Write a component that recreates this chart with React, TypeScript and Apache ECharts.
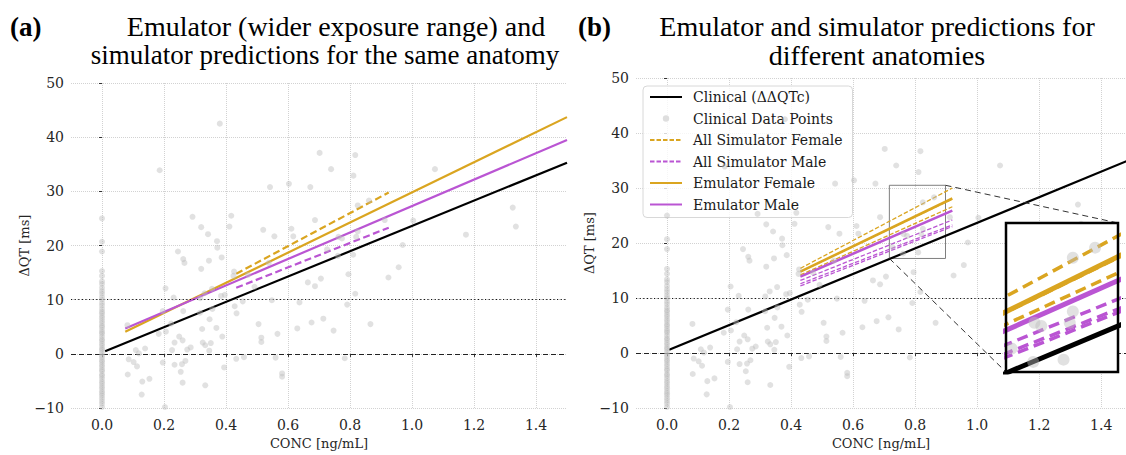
import React, { useEffect, useRef } from 'react';
import * as echarts from 'echarts';

// Axis ranges and tick values
const X_MIN = -0.1;
const X_MAX_A = 1.5;
const X_MAX_B = 1.48;
const X_TICKS = [0, 0.2, 0.4, 0.6, 0.8, 1.0, 1.2, 1.4];
const Y_MIN = -10;
const Y_MAX = 50;
const Y_STEP = 10;

// Clinical observations at zero concentration (placebo column)
const PLACEBO_DQT = [
  25.0, 20.7, 18.9, 15.3, 14.4, 13.4, 12.9, 12.2, 11.6, 11.1, 10.5, 10.0, 9.4, 8.9, 8.3,
  7.8, 7.5, 7.0, 6.6, 6.1, 5.7, 5.2, 4.9, 4.4, 4.0, 3.7, 3.2, 2.7, 2.4, 1.9, 1.5, 1.0,
  0.7, 0.2, -0.3, -0.7, -1.2, -1.5, -2.0, -2.4, -2.9, -3.2, -3.8, -4.1, -4.6, -5.1,
  -5.5, -6.0, -6.4, -6.9, -7.3, -7.7, -8.2, -8.7, -9.2, -9.8,
];

// Clinical observations with drug exposure: [CONC, ΔQT]
const DOSED_POINTS: [number, number][] = [
  [0.380, 42.5], [0.186, 33.9], [0.702, 37.1], [0.817, 36.7], [0.739, 34.1], [0.811, 32.9],
  [1.074, 34.1], [0.542, 30.8], [0.603, 31.4], [0.672, 30.8], [0.825, 27.4], [0.861, 28.3],
  [1.325, 27.0], [1.335, 23.5], [1.174, 22.0], [0.292, 25.3], [0.417, 25.5], [0.411, 23.5],
  [0.320, 23.4], [0.342, 22.1], [0.371, 20.8], [0.372, 19.6], [0.386, 17.8], [0.245, 18.9],
  [0.262, 17.5], [0.266, 16.8], [0.345, 17.2], [0.320, 15.7], [0.520, 22.9], [0.556, 21.7],
  [0.611, 23.1], [0.617, 21.7], [0.687, 24.7], [0.912, 24.7], [1.004, 24.6], [0.970, 20.1],
  [0.957, 16.0], [0.924, 14.1], [0.795, 14.7], [0.817, 11.1], [0.791, 9.1], [0.866, 5.5],
  [0.810, 18.3], [0.763, 21.6], [0.774, 21.3], [0.820, 21.6], [0.825, 22.6], [0.761, 18.1],
  [0.726, 19.3], [0.706, 13.9], [0.687, 12.5], [0.664, 13.2], [0.538, 16.8], [0.492, 12.4],
  [0.471, 14.6], [0.426, 15.2], [0.424, 14.4], [0.548, 9.9], [0.637, 9.5], [0.454, 9.7],
  [0.428, 8.8], [0.434, 7.5], [0.396, 10.9], [0.384, 10.7], [0.355, 12.0], [0.356, 8.3],
  [0.347, 6.4], [0.323, 4.6], [0.369, 4.8], [0.388, 3.2], [0.325, 2.1], [0.351, 2.0],
  [0.346, 0.6], [0.333, 1.6], [0.286, 1.2], [0.275, 0.8], [0.260, 2.5], [0.249, 3.2],
  [0.234, 2.1], [0.226, 0.7], [0.223, 5.6], [0.206, 4.1], [0.183, 3.7], [0.196, 7.9],
  [0.262, 7.9], [0.231, 10.4], [0.205, 12.1], [0.316, 7.6], [0.317, 10.3], [0.331, 11.2],
  [0.082, 5.3], [0.109, 0.7], [0.139, 1.0], [0.119, 0.1], [0.086, -1.0], [0.102, -1.5],
  [0.113, -2.3], [0.083, -3.8], [0.130, -5.1], [0.153, -4.6], [0.128, -7.5], [0.203, -9.8],
  [0.196, -1.6], [0.234, -2.0], [0.258, -1.9], [0.269, -1.3], [0.254, -3.3], [0.260, -5.3],
  [0.333, -5.8], [0.394, -2.5], [0.433, -0.9], [0.458, -0.6], [0.560, -0.7], [0.581, -3.6],
  [0.581, -4.2], [0.566, 3.7], [0.514, 3.0], [0.514, 2.2], [0.505, 5.5], [0.630, 4.7],
  [0.676, 5.8], [0.714, 6.5], [0.747, 4.3], [0.783, -0.8],
];

// Panel (a): same anatomy, emulator over a wider exposure range
const A_CLINICAL: [number, number][] = [[0.01, 0.5], [1.5, 35.3]];
const A_SIM_FEMALE: [number, number][] = [[0.433, 14.8], [0.925, 29.8]];
const A_SIM_MALE: [number, number][] = [[0.433, 12.2], [0.925, 23.3]];
const A_EMU_FEMALE: [number, number][] = [[0.075, 4.1], [1.5, 43.7]];
const A_EMU_MALE: [number, number][] = [[0.075, 4.7], [1.5, 39.5]];

// Panel (b): different anatomies
const B_CLINICAL: [number, number][] = [[0.007, 0.6], [1.5, 35.3]];
const B_SIM_FEMALE: [number, number][][] = [
  [[0.43, 15.4], [0.92, 30.0]],
  [[0.43, 14.8], [0.92, 28.0]],
  [[0.43, 14.2], [0.92, 26.6]],
];
const B_SIM_MALE: [number, number][][] = [
  [[0.43, 13.2], [0.92, 24.2]],
  [[0.43, 12.6], [0.92, 23.3]],
  [[0.43, 12.2], [0.92, 23.0]],
];
const B_EMU_FEMALE: [number, number][] = [[0.43, 14.8], [0.92, 28.1]];
const B_EMU_MALE: [number, number][] = [[0.43, 13.9], [0.92, 25.9]];

// Magnified region of panel (b)
const ZOOM_X = [0.717, 0.898];
const ZOOM_Y = [17.2, 30.5];
const ZOOM_GRID_X = [0.8];
const ZOOM_GRID_Y = [20, 30];

const NAMES = {
  clinical: 'Clinical (ΔΔQTc)',
  points: 'Clinical Data Points',
  simF: 'All Simulator Female',
  simM: 'All Simulator Male',
  emuF: 'Emulator Female',
  emuM: 'Emulator Male',
};

const ORANGE = '#DAA520';
const PURPLE = '#BA55D3';
const POINT_COLOR = '#bdbdbd';
const POINT_OPACITY = 0.45;
const SERIF = 'DejaVu Serif';
const TITLE_FONT = 'Liberation Serif';

const GRID_A = { left: 71, top: 83, width: 496, height: 334 };
const GRID_B = { left: 636, top: 78, width: 490, height: 335 };
const INSET = { left: 1006, top: 223, width: 112, height: 149 };

const ALL_POINTS: [number, number][] = [
  ...PLACEBO_DQT.map((v) => [0, v] as [number, number]),
  ...DOSED_POINTS,
];

const tickText = { fontFamily: SERIF, fontSize: 14, color: '#262626' };

function xAxis(gridIndex: number, max: number) {
  return {
    type: 'value',
    gridIndex,
    min: X_MIN,
    max,
    splitNumber: 8,
    axisLine: { show: false },
    axisTick: { show: true, length: 3, lineStyle: { color: '#333' }, customValues: X_TICKS },
    axisLabel: {
      ...tickText,
      margin: 10,
      customValues: X_TICKS,
      formatter: (v: number) => v.toFixed(1),
    },
    splitLine: { show: true, lineStyle: { color: '#d2d2d2', type: 'dotted', width: 1 } },
    name: 'CONC [ng/mL]',
    nameLocation: 'middle',
    nameGap: 27,
    nameTextStyle: { fontFamily: SERIF, fontSize: 13, color: '#262626' },
  };
}

function yAxis(gridIndex: number) {
  return {
    type: 'value',
    gridIndex,
    min: Y_MIN,
    max: Y_MAX,
    interval: Y_STEP,
    axisLine: { show: false },
    axisTick: { show: true, length: 3, lineStyle: { color: '#333' } },
    axisLabel: {
      ...tickText,
      margin: 7,
      formatter: (v: number) => String(v).replace('-', '\u2212'),
    },
    splitLine: { show: true, lineStyle: { color: '#d2d2d2', type: 'dotted', width: 1 } },
    name: 'ΔQT [ms]',
    nameLocation: 'middle',
    nameGap: 38,
    nameTextStyle: { fontFamily: SERIF, fontSize: 13, color: '#262626' },
  };
}

function lineSeries(
  name: string,
  data: [number, number][],
  axis: number,
  color: string,
  width: number,
  type: any,
  z: number,
  extra: any = {}
) {
  return {
    type: 'line',
    name,
    data,
    xAxisIndex: axis,
    yAxisIndex: axis,
    symbol: 'none',
    silent: true,
    clip: true,
    z,
    lineStyle: { color, width, type, cap: 'butt' },
    itemStyle: { color },
    ...extra,
  };
}

function referenceLines() {
  return {
    silent: true,
    symbol: 'none',
    label: { show: false },
    data: [
      { yAxis: 10, lineStyle: { type: [1.2, 2.4], color: '#111', width: 1.1 } },
      { yAxis: 0, lineStyle: { type: [5, 3], color: '#222', width: 1.2 } },
    ],
  };
}

const pointIcon =
  'image://data:image/svg+xml;charset=utf-8,' +
  encodeURIComponent(
    '<svg xmlns="http://www.w3.org/2000/svg" width="64" height="28"><circle cx="32" cy="14" r="6.4" fill="#dedede"/></svg>'
  );

function scatterSeries(axis: number, size: number, z: number) {
  return {
    type: 'scatter',
    name: NAMES.points,
    data: ALL_POINTS,
    xAxisIndex: axis,
    yAxisIndex: axis,
    symbolSize: size,
    silent: true,
    clip: true,
    z,
    itemStyle: { color: POINT_COLOR, opacity: POINT_OPACITY },
  };
}

function buildOption() {
  const series: any[] = [];

  // Panel (b), listed first so the legend takes its styles
  series.push(
    lineSeries(NAMES.clinical, B_CLINICAL, 1, '#000', 2.2, 'solid', 3, {
      markLine: referenceLines(),
      markArea: {
        silent: true,
        itemStyle: { color: 'rgba(0,0,0,0)', borderColor: '#7f7f7f', borderWidth: 1 },
        data: [[{ coord: [ZOOM_X[0], ZOOM_Y[0]] }, { coord: [ZOOM_X[1], ZOOM_Y[1]] }]],
      },
    })
  );
  series.push(scatterSeries(1, 6, 5));
  B_SIM_FEMALE.forEach((d) => series.push(lineSeries(NAMES.simF, d, 1, ORANGE, 1.3, [4.5, 2], 4)));
  B_SIM_MALE.forEach((d) => series.push(lineSeries(NAMES.simM, d, 1, PURPLE, 1.3, [4.5, 2], 4)));
  series.push(lineSeries(NAMES.emuF, B_EMU_FEMALE, 1, ORANGE, 2.6, 'solid', 4));
  series.push(lineSeries(NAMES.emuM, B_EMU_MALE, 1, PURPLE, 2.6, 'solid', 4));

  // Panel (a)
  series.push(lineSeries(NAMES.clinical, A_CLINICAL, 0, '#000', 2.2, 'solid', 3, { markLine: referenceLines() }));
  series.push(scatterSeries(0, 6, 5));
  series.push(lineSeries(NAMES.simF, A_SIM_FEMALE, 0, ORANGE, 2.2, [7, 3.5], 4));
  series.push(lineSeries(NAMES.simM, A_SIM_MALE, 0, PURPLE, 2.2, [7, 3.5], 4));
  series.push(lineSeries(NAMES.emuF, A_EMU_FEMALE, 0, ORANGE, 2.2, 'solid', 4));
  series.push(lineSeries(NAMES.emuM, A_EMU_MALE, 0, PURPLE, 2.2, 'solid', 4));

  // Inset of panel (b)
  series.push({
    type: 'line',
    name: 'inset-grid',
    data: [],
    xAxisIndex: 2,
    yAxisIndex: 2,
    silent: true,
    z: 9,
    markLine: {
      silent: true,
      symbol: 'none',
      label: { show: false },
      lineStyle: { color: '#c4c4c4', type: [3, 3], width: 1 },
      data: [...ZOOM_GRID_X.map((v) => ({ xAxis: v })), ...ZOOM_GRID_Y.map((v) => ({ yAxis: v }))],
    },
  });
  series.push(lineSeries(NAMES.clinical, B_CLINICAL, 2, '#000', 5, 'solid', 10));
  B_SIM_FEMALE.forEach((d) => series.push(lineSeries(NAMES.simF, d, 2, ORANGE, 3.5, [11, 6], 10)));
  B_SIM_MALE.forEach((d) => series.push(lineSeries(NAMES.simM, d, 2, PURPLE, 3.5, [11, 6], 10)));
  series.push(lineSeries(NAMES.emuF, B_EMU_FEMALE, 2, ORANGE, 5, 'solid', 10));
  series.push(lineSeries(NAMES.emuM, B_EMU_MALE, 2, PURPLE, 5, 'solid', 10));
  series.push(scatterSeries(2, 12, 12));

  const hiddenAxis = (gridIndex: number, range: number[]) => ({
    type: 'value',
    gridIndex,
    min: range[0],
    max: range[1],
    show: false,
    splitLine: { show: false },
  });

  return {
    animation: false,
    backgroundColor: '#fff',
    grid: [
      { ...GRID_A, containLabel: false },
      { ...GRID_B, containLabel: false },
      { ...INSET, containLabel: false },
    ],
    xAxis: [xAxis(0, X_MAX_A), xAxis(1, X_MAX_B), hiddenAxis(2, ZOOM_X)],
    yAxis: [yAxis(0), yAxis(1), hiddenAxis(2, ZOOM_Y)],
    legend: {
      orient: 'vertical',
      left: 643,
      top: 86,
      itemWidth: 32,
      itemHeight: 14,
      itemGap: 7.5,
      padding: [4, 10, 6, 6],
      backgroundColor: 'rgba(255,255,255,0.8)',
      borderColor: '#d8d8d8',
      borderWidth: 1,
      borderRadius: 4,
      selectedMode: false,
      // line handles only: the marker drawn on top of each handle is hidden
      itemStyle: { opacity: 0 },
      textStyle: { fontFamily: SERIF, fontSize: 14, color: '#1a1a1a', padding: [0, 0, 0, 6] },
      data: [
        { name: NAMES.clinical },
        { name: NAMES.points, icon: pointIcon, itemStyle: { opacity: 1 } },
        { name: NAMES.simF },
        { name: NAMES.simM },
        { name: NAMES.emuF },
        { name: NAMES.emuM },
      ],
    },
    graphic: {
      elements: [
        {
          id: 'label-a',
          type: 'text',
          x: 10,
          y: 27,
          style: { text: '(a)', font: `bold 27px "${TITLE_FONT}"`, fill: '#000', textVerticalAlign: 'middle' },
        },
        {
          id: 'title-a1',
          type: 'text',
          x: 336,
          y: 26,
          style: {
            text: 'Emulator (wider exposure range) and',
            font: `28px "${TITLE_FONT}"`,
            fill: '#000',
            textAlign: 'center',
            textVerticalAlign: 'middle',
          },
        },
        {
          id: 'title-a2',
          type: 'text',
          x: 325,
          y: 55,
          style: {
            text: 'simulator predictions for the same anatomy',
            font: `27px "${TITLE_FONT}"`,
            fill: '#000',
            textAlign: 'center',
            textVerticalAlign: 'middle',
          },
        },
        {
          id: 'label-b',
          type: 'text',
          x: 578,
          y: 27,
          style: { text: '(b)', font: `bold 27px "${TITLE_FONT}"`, fill: '#000', textVerticalAlign: 'middle' },
        },
        {
          id: 'title-b1',
          type: 'text',
          x: 877,
          y: 26,
          style: {
            text: 'Emulator and simulator predictions for',
            font: `28px "${TITLE_FONT}"`,
            fill: '#000',
            textAlign: 'center',
            textVerticalAlign: 'middle',
          },
        },
        {
          id: 'title-b2',
          type: 'text',
          x: 877,
          y: 55,
          style: {
            text: 'different anatomies',
            font: `28px "${TITLE_FONT}"`,
            fill: '#000',
            textAlign: 'center',
            textVerticalAlign: 'middle',
          },
        },
        {
          id: 'inset-cover',
          type: 'rect',
          z: 8,
          silent: true,
          shape: { x: INSET.left, y: INSET.top, width: INSET.width, height: INSET.height },
          style: { fill: '#fff' },
        },
        {
          id: 'inset-frame',
          type: 'rect',
          z: 20,
          silent: true,
          shape: { x: INSET.left, y: INSET.top, width: INSET.width, height: INSET.height },
          style: { fill: 'none', stroke: '#000', lineWidth: 2.5 },
        },
      ],
    },
    series,
  };
}

export default function App() {
  const ref = useRef<HTMLDivElement>(null);

  useEffect(() => {
    document.body.style.margin = '0';
    const chart = echarts.init(ref.current as HTMLDivElement, undefined, { renderer: 'svg' });
    chart.setOption(buildOption() as any);

    // Connector lines from the magnified box to the inset corners
    const topRight = chart.convertToPixel({ gridIndex: 1 } as any, [ZOOM_X[1], ZOOM_Y[1]]) as number[];
    const bottomLeft = chart.convertToPixel({ gridIndex: 1 } as any, [ZOOM_X[0], ZOOM_Y[0]]) as number[];
    const connector = { stroke: '#333', lineWidth: 1, lineDash: [6, 4] };
    chart.setOption({
      graphic: {
        elements: [
          {
            id: 'conn-top',
            type: 'line',
            z: 15,
            silent: true,
            shape: { x1: topRight[0], y1: topRight[1], x2: INSET.left + INSET.width, y2: INSET.top },
            style: connector,
          },
          {
            id: 'conn-bottom',
            type: 'line',
            z: 15,
            silent: true,
            shape: { x1: bottomLeft[0], y1: bottomLeft[1], x2: INSET.left, y2: INSET.top + INSET.height },
            style: connector,
          },
        ],
      },
    } as any);

    return () => chart.dispose();
  }, []);

  return <div ref={ref} style={{ width: 1126, height: 455 }} />;
}
